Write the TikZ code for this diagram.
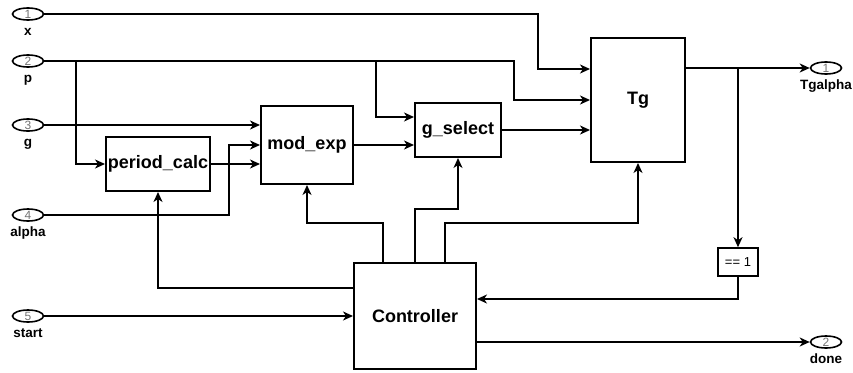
\documentclass[tikz,border=0pt]{standalone}
\usepackage{fontspec}
\setmainfont{Liberation Sans}
\usetikzlibrary{shapes.geometric,arrows.meta}

\begin{document}
\begin{tikzpicture}[x=1pt,y=-1pt,line width=2pt,
        -{Stealth[length=10pt,width=9pt,inset=3pt]},
        block/.style={draw,inner sep=0pt,font=\fontsize{18}{20}\selectfont\bfseries},
        port/.style={draw,ellipse,line width=1.6pt,minimum width=31pt,minimum height=12pt,inner sep=0pt,
            text=black!55,font=\fontsize{12}{12}\selectfont},
        portlabel/.style={inner sep=0pt,text height=9.5pt,text depth=3pt,label distance=4pt,
            font=\fontsize{13.5}{14}\selectfont\bfseries}]
        \useasboundingbox (0,0) rectangle (853,372);
        % ports
        \node[port,label={[portlabel]below:x}] (in_x) at (28,14) {1};
        \node[port,label={[portlabel]below:p}] (in_p) at (28,61) {2};
        \node[port,label={[portlabel]below:g}] (in_g) at (28,125) {3};
        \node[port,label={[portlabel]below:alpha}] (in_alpha) at (28,215) {4};
        \node[port,label={[portlabel]below:start}] (in_start) at (28,316) {5};
        \node[port,label={[portlabel]below:Tgalpha}] (out_Tgalpha) at (826,68) {1};
        \node[port,label={[portlabel]below:done}] (out_done) at (826,342) {2};
        % blocks
        \node[block,minimum width=94pt,minimum height=124pt] (Tg) at (638,100) {Tg};
        \node[block,minimum width=86pt,minimum height=54pt] (g_select) at (458,130) {g\_select};
        \node[block,minimum width=92pt,minimum height=78pt] (mod_exp) at (307,145) {mod\_exp};
        \node[block,minimum width=104pt,minimum height=54pt] (period_calc) at (158,164) {period\_calc};
        \node[block,minimum width=122pt,minimum height=106pt] (Controller) at (415,316) {Controller};
        \node[block,line width=1.6pt,minimum width=40pt,minimum height=28pt,
            font=\fontsize{13}{14}\selectfont] (is_one) at (738,262) {== 1};
        % branch points
        \coordinate (p_split1) at (76,61);
        \coordinate (p_split2) at (376,61);
        \coordinate (Tg_split) at (738,68);
        % signals
        \draw (in_x) -| (538,69) -- (Tg.west |- 0,69);
        \draw (in_p) -| (514,100) -- (Tg.west);
        \draw (p_split1) |- (period_calc.west);
        \draw (p_split2) |- (g_select.west |- 0,117);
        \draw (in_g) -- (in_g -| mod_exp.west);
        \draw (in_alpha) -| (229,145) -- (mod_exp.west);
        \draw (period_calc) -- (period_calc -| mod_exp.west);
        \draw (mod_exp) -- (mod_exp -| g_select.west);
        \draw (g_select) -- (g_select -| Tg.west);
        \draw (Tg.east |- out_Tgalpha) -- (out_Tgalpha);
        \draw (Tg_split) -- (is_one);
        \draw (is_one) |- (Controller.east |- 0,299);
        \draw (Controller.east |- out_done) -- (out_done);
        \draw (in_start) -- (in_start -| Controller.west);
        \draw (Controller.west |- 0,288) -| (period_calc);
        \draw (Controller.north -| 383,0) |- (mod_exp.south |- 0,223) -- (mod_exp.south);
        \draw (Controller.north) |- (g_select.south |- 0,209) -- (g_select.south);
        \draw (Controller.north -| 445,0) |- (Tg.south |- 0,223) -- (Tg.south);
\end{tikzpicture}
\end{document}
